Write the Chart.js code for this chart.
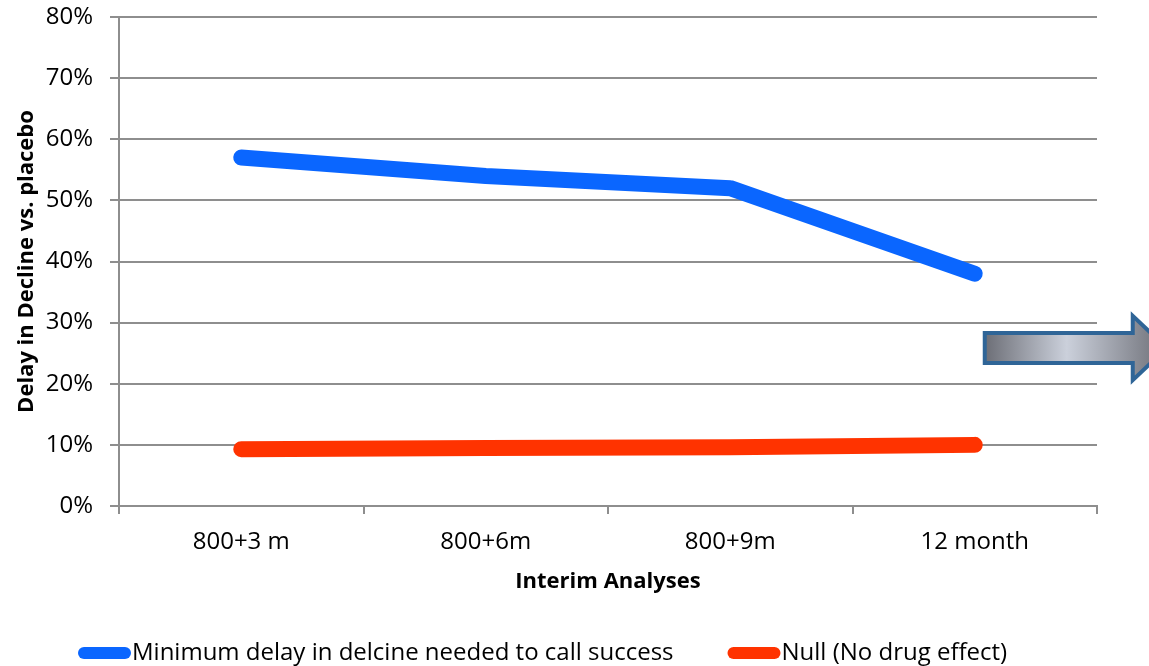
<!DOCTYPE html>
<html>
<head>
<meta charset="utf-8">
<script src="https://cdn.jsdelivr.net/npm/chart.js@4.4.1/dist/chart.umd.min.js"></script>
<style>
  html, body { margin: 0; padding: 0; background: #fff; }
  #wrap { width: 1149px; height: 666px; position: relative; }
</style>
</head>
<body>
<div id="wrap"><canvas id="chart"></canvas></div>
<script>
const categories = ['800+3 m', '800+6m', '800+9m', '12 month'];
const minDelay = [57, 54, 52, 38];
const nullEffect = [9.3, 9.5, 9.6, 10];
const seriesNames = ['Minimum delay in delcine needed to call success', 'Null (No drug effect)'];
const seriesColors = ['#0a66ff', '#ff3300'];
const yTicks = [0, 10, 20, 30, 40, 50, 60, 70, 80];

const FONT = '"Open Sans", "Noto Sans", sans-serif';
const GRID = '#8e8e8e';

// gray block arrow beside the last point
const arrowPlugin = {
  id: 'arrow',
  afterDraw(chart) {
    const ctx = chart.ctx;
    const x = chart.scales.x, y = chart.scales.y;
    const left = x.getPixelForValue(3) + 10;
    const headX = left + 148;
    const tip = headX + 34;
    const bTop = y.getPixelForValue(28.3), bBot = y.getPixelForValue(23.4);
    const hTop = y.getPixelForValue(31.1), hBot = y.getPixelForValue(20.6);
    const mid = (hTop + hBot) / 2;
    const g = ctx.createLinearGradient(left, 0, tip, 0);
    g.addColorStop(0, '#6c6e76');
    g.addColorStop(0.45, '#cbd0db');
    g.addColorStop(1, '#6c6e76');
    ctx.save();
    ctx.beginPath();
    ctx.moveTo(left, bTop);
    ctx.lineTo(headX, bTop);
    ctx.lineTo(headX, hTop);
    ctx.lineTo(tip, mid);
    ctx.lineTo(headX, hBot);
    ctx.lineTo(headX, bBot);
    ctx.lineTo(left, bBot);
    ctx.closePath();
    ctx.fillStyle = g;
    ctx.fill();
    ctx.lineWidth = 4;
    ctx.strokeStyle = '#2f6597';
    ctx.lineJoin = 'miter';
    ctx.stroke();
    ctx.restore();
  }
};

// legend drawn like the spreadsheet one: thick line marker hugging the text
const legendPlugin = {
  id: 'lineLegend',
  afterDraw(chart) {
    const ctx = chart.ctx;
    const yPos = 653;
    let xPos = 84;
    ctx.save();
    ctx.font = '24px ' + FONT;
    ctx.textBaseline = 'middle';
    chart.data.datasets.forEach((ds, i) => {
      ctx.beginPath();
      ctx.lineCap = 'round';
      ctx.lineWidth = 12;
      ctx.strokeStyle = ds.borderColor;
      ctx.moveTo(xPos, yPos);
      ctx.lineTo(xPos + 41, yPos);
      ctx.stroke();
      ctx.fillStyle = '#000';
      ctx.fillText(ds.label, xPos + 48, yPos);
      xPos += 48 + ctx.measureText(ds.label).width + 60;
    });
    ctx.restore();
  }
};

new Chart(document.getElementById('chart'), {
  type: 'line',
  data: {
    labels: categories,
    datasets: [
      {
        label: seriesNames[0],
        data: minDelay,
        borderColor: seriesColors[0],
        backgroundColor: seriesColors[0],
        borderWidth: 16,
        borderCapStyle: 'round',
        borderJoinStyle: 'round',
        pointRadius: 0,
        fill: false,
      },
      {
        label: seriesNames[1],
        data: nullEffect,
        borderColor: seriesColors[1],
        backgroundColor: seriesColors[1],
        borderWidth: 16,
        borderCapStyle: 'round',
        borderJoinStyle: 'round',
        pointRadius: 0,
        fill: false,
      },
    ],
  },
  options: {
    responsive: true,
    maintainAspectRatio: false,
    animation: false,
    layout: { padding: { top: 17, right: 52, bottom: 0, left: 0 } },
    scales: {
      x: {
        offset: true,
        afterFit: (scale) => { scale.height = 160; },
        grid: { display: true, drawOnChartArea: false, offset: true, tickLength: 8, color: GRID, lineWidth: 2 },
        border: { color: GRID, width: 2 },
        ticks: { color: '#000', font: { family: FONT, size: 24 }, padding: 14 },
        title: {
          display: true,
          text: 'Interim Analyses',
          color: '#000',
          font: { family: FONT, size: 22, weight: 'bold' },
          padding: { top: 0, bottom: 71 },
        },
      },
      y: {
        min: 0,
        max: 80,
        afterFit: (scale) => {
          scale.width = 119;
          scale.paddingTop = 0;
          scale.paddingBottom = 0;
        },
        afterBuildTicks: (scale) => { scale.ticks = yTicks.map(v => ({ value: v })); },
        grid: { color: GRID, lineWidth: 2, tickLength: 9 },
        border: { color: GRID, width: 2 },
        ticks: {
          color: '#000',
          font: { family: FONT, size: 24 },
          padding: 17,
          callback: (v) => v + '%',
        },
        title: {
          display: true,
          text: 'Delay in Decline vs. placebo',
          color: '#000',
          font: { family: FONT, size: 22, weight: 'bold' },
          padding: { top: 14, bottom: 0 },
        },
      },
    },
    plugins: {
      legend: { display: false },
      tooltip: { enabled: false },
    },
  },
  plugins: [arrowPlugin, legendPlugin],
});
</script>
</body>
</html>
